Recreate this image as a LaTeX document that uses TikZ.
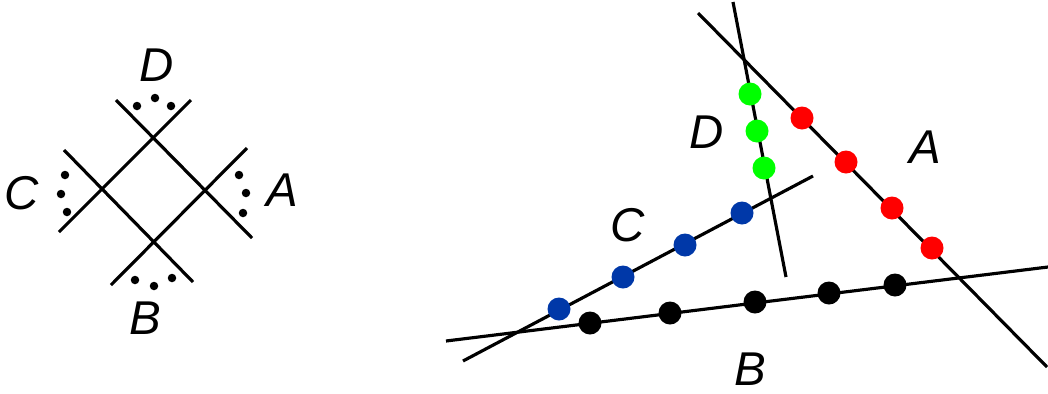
\documentclass[tikz,border=0pt]{standalone}
\usepackage{fontspec}
\setmainfont{Liberation Sans}
\definecolor{dotred}{HTML}{FF0000}
\definecolor{dotgreen}{HTML}{00FF00}
\definecolor{dotblue}{HTML}{0038A8}
\tikzset{
	legline/.style={
			line width=1.8pt,
			draw=black
		},
	smalldot/.style={
			circle,
			fill=black,
			minimum size=0.17cm,
			inner sep=0pt
		},
	bigdot/.style={
			circle,
			minimum size=0.46cm,
			inner sep=0pt
		},
	letter/.style={
			font=\fontsize{27}{31}\selectfont\itshape,
			inner sep=0pt
		}
}

\begin{document}
\begin{tikzpicture}[x=0.02cm, y=-0.02cm]
\useasboundingbox (0,0) rectangle (1048,393);

% vertex with four legs
\coordinate (l1a) at (116,100);
\coordinate (l1b) at (252,238);
\coordinate (l2a) at (191,100);
\coordinate (l2b) at (59,232);
\coordinate (l3a) at (64,150);
\coordinate (l3b) at (193,282);
\coordinate (l4a) at (247,148);
\coordinate (l4b) at (111,285);

\draw[legline] (l1a) -- (l1b);
\draw[legline] (l2a) -- (l2b);
\draw[legline] (l3a) -- (l3b);
\draw[legline] (l4a) -- (l4b);

\node[smalldot] (ld1) at (137,106) {};
\node[smalldot] (ld2) at (155,98) {};
\node[smalldot] (ld3) at (171,106) {};
\node[smalldot] (lc1) at (65,175) {};
\node[smalldot] (lc2) at (61,194) {};
\node[smalldot] (lc3) at (67,212) {};
\node[smalldot] (la1) at (239,175) {};
\node[smalldot] (la2) at (246,193) {};
\node[smalldot] (la3) at (243,213) {};
\node[smalldot] (lb1) at (135,280) {};
\node[smalldot] (lb2) at (154,286) {};
\node[smalldot] (lb3) at (172,278) {};

\node[letter] (ld) at (157,65) {D};
\node[letter] (lc) at (22,193) {C};
\node[letter] (la) at (282,190) {A};
\node[letter] (lb) at (145,318) {B};

% four lines with their points
\coordinate (ra1) at (698,13);
\coordinate (ra2) at (1047,367);
\coordinate (rd1) at (733,2);
\coordinate (rd2) at (786,277);
\coordinate (rc1) at (463,361);
\coordinate (rc2) at (813,176);
\coordinate (rb1) at (446,341);
\coordinate (rb2) at (1048,267);

\draw[legline] (ra1) -- (ra2);
\draw[legline] (rd1) -- (rd2);
\draw[legline] (rc1) -- (rc2);
\draw[legline] (rb1) -- (rb2);

\node[bigdot, fill=dotred] (pa1) at (802,118) {};
\node[bigdot, fill=dotred] (pa2) at (846,162) {};
\node[bigdot, fill=dotred] (pa3) at (892,208) {};
\node[bigdot, fill=dotred] (pa4) at (932,248) {};

\node[bigdot, fill=dotgreen] (pd1) at (750,94) {};
\node[bigdot, fill=dotgreen] (pd2) at (757,131) {};
\node[bigdot, fill=dotgreen] (pd3) at (764,168) {};

\node[bigdot, fill=dotblue] (pc1) at (559,309) {};
\node[bigdot, fill=dotblue] (pc2) at (623,277) {};
\node[bigdot, fill=dotblue] (pc3) at (685,245) {};
\node[bigdot, fill=dotblue] (pc4) at (742,213) {};

\node[bigdot, fill=black] (pb1) at (590,323) {};
\node[bigdot, fill=black] (pb2) at (670,313) {};
\node[bigdot, fill=black] (pb3) at (755,302) {};
\node[bigdot, fill=black] (pb4) at (829,293) {};
\node[bigdot, fill=black] (pb5) at (895,285) {};

\node[letter] (rd) at (707,132) {D};
\node[letter] (rc) at (628,225) {C};
\node[letter] (ra) at (925,147) {A};
\node[letter] (rb) at (750,369) {B};
\end{tikzpicture}
\end{document}
